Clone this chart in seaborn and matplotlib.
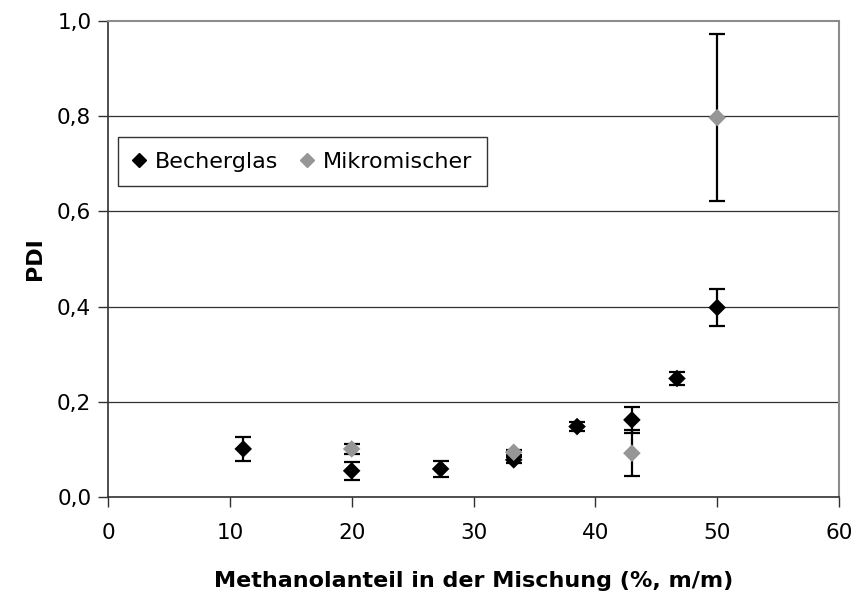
import numpy as np
import pandas as pd
import matplotlib
matplotlib.use("Agg")
import matplotlib.pyplot as plt
from matplotlib.ticker import FuncFormatter
import seaborn as sns

becher_x = [11.1, 20.0, 27.3, 33.3, 38.5, 43.0, 46.7, 50.0]
becher_pdi = [0.101, 0.055, 0.059, 0.078, 0.148, 0.162, 0.249, 0.398]
becher_err = [0.025, 0.019, 0.017, 0.006, 0.010, 0.028, 0.013, 0.038]

mikro_x = [20.0, 33.3, 43.0, 50.0]
mikro_pdi = [0.101, 0.094, 0.092, 0.797]
mikro_err = [0.010, 0.005, 0.048, 0.176]

series = ["Becherglas", "Mikromischer"]
colors = ["#000000", "#969696"]

sns.set_theme(style="white")
plt.rcParams["font.family"] = ["DejaVu Sans"]
plt.rcParams["text.color"] = "black"
plt.rcParams["axes.labelcolor"] = "black"
plt.rcParams["xtick.color"] = "black"
plt.rcParams["ytick.color"] = "black"

data = pd.concat([
    pd.DataFrame({"x": becher_x, "pdi": becher_pdi, "err": becher_err, "art": series[0]}),
    pd.DataFrame({"x": mikro_x, "pdi": mikro_pdi, "err": mikro_err, "art": series[1]}),
], ignore_index=True)

fig, ax = plt.subplots(figsize=(8.55, 5.93), dpi=100)
fig.subplots_adjust(left=108 / 855, right=839 / 855, top=1 - 21 / 593, bottom=1 - 497 / 593)

# Gitterlinien
for v in [0.2, 0.4, 0.6, 0.8]:
    ax.axhline(v, color="#303030", lw=0.9, zorder=0)

# Fehlerbalken
for name in series:
    d = data[data["art"] == name]
    ax.errorbar(d["x"], d["pdi"], yerr=d["err"], fmt="none", ecolor="black",
                elinewidth=1.6, capsize=6, capthick=1.6, zorder=2)

sns.scatterplot(data=data, x="x", y="pdi", hue="art", hue_order=series,
                palette=colors, marker="D", s=80, edgecolor="none",
                ax=ax, zorder=3, legend=False)

ax.set_xlim(0, 60)
ax.set_ylim(0, 1.0)
ax.set_xticks(np.arange(0, 61, 10))
ax.set_yticks(np.arange(0, 1.01, 0.2))
ax.yaxis.set_major_formatter(FuncFormatter(lambda v, p: f"{v:.1f}".replace(".", ",")))
ax.tick_params(axis="both", direction="out", length=7, width=1, color="#303030",
               labelsize=15.5, bottom=True, left=True)
ax.tick_params(axis="x", pad=12)
ax.tick_params(axis="y", pad=5)

for side in ["left", "bottom"]:
    ax.spines[side].set_color("#303030")
    ax.spines[side].set_linewidth(1.2)
for side in ["top", "right"]:
    ax.spines[side].set_color("#8c8c8c")
    ax.spines[side].set_linewidth(1.5)

ax.set_xlabel("Methanolanteil in der Mischung (%, m/m)", fontsize=16, fontweight="bold", labelpad=20)
ax.set_ylabel("PDI", fontsize=16, fontweight="bold", labelpad=9)

# Legende
handles = [plt.Line2D([], [], ls="", marker="D", ms=7, color=c) for c in colors]
leg = ax.legend(handles, series, ncol=2, loc="upper left", bbox_to_anchor=(0.014, 0.756),
                fontsize=16, frameon=True, fancybox=False, handlelength=0.6,
                handletextpad=0.4, columnspacing=1.0, borderpad=0.65, borderaxespad=0)
leg.get_frame().set_edgecolor("black")
leg.get_frame().set_linewidth(1.0)

fig.savefig("out.png", dpi=100)
